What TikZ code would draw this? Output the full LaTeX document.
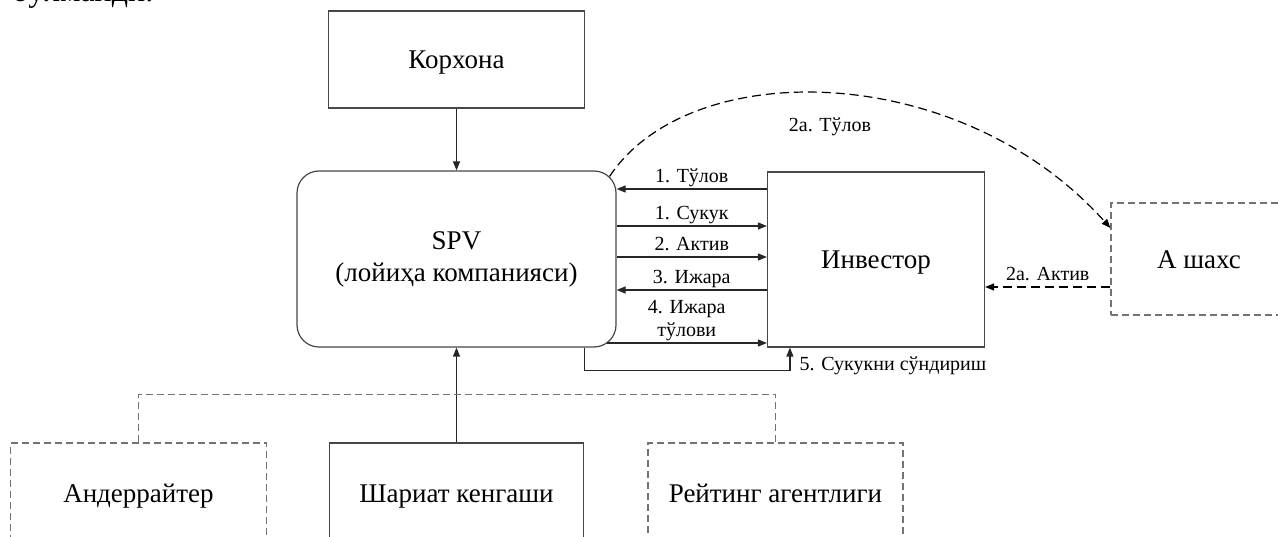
\documentclass[tikz,border=0pt]{standalone}
\usepackage{fontspec}
\setmainfont{Liberation Serif}
\usetikzlibrary{arrows.meta}

\begin{document}
\begin{tikzpicture}[x=1pt, y=-1pt,
    box/.style={draw=black!72, line width=1.2pt, inner sep=0pt, align=center, font=\fontsize{27}{32}\selectfont},
    sbox/.style={box, text height=19pt, text depth=0pt},
    dbox/.style={sbox, draw=black!55, dash pattern=on 7pt off 4pt},
    dline/.style={draw=black!55, line width=1.2pt, dash pattern=on 7pt off 4pt},
    arr/.style={draw=black!85, line width=1.2pt, -{Triangle[length=9pt,width=7pt]}},
    darr/.style={arr, draw=black, dash pattern=on 9pt off 5pt},
    lbl/.style={font=\fontsize{20}{23}\selectfont, inner sep=1.5pt, text depth=4.5pt}]
    % рамка
    \useasboundingbox (0,0) rectangle (1278,537);

    % матн юқорида
    \node[anchor=base west, font=\fontsize{32}{36}\selectfont, inner sep=0pt] (matn) at (12,2) {бўлмайди.};

    % тугунлар
    \node[sbox, minimum width=256pt, minimum height=97pt] (korxona) at (456.5,59.5) {Корхона};
    \node[box, rounded corners=22pt, minimum width=319pt, minimum height=176pt] (spv) at (456.5,259) {SPV\\(лойиҳа компанияси)};
    \node[sbox, minimum width=217pt, minimum height=175pt] (inv) at (876,259.5) {Инвестор};
    \node[dbox, minimum width=176pt, minimum height=112pt] (ashax) at (1199,259) {А шахс};
    \node[dbox, minimum width=256pt, minimum height=100pt] (und) at (138.5,493) {Андеррайтер};
    \node[sbox, minimum width=254pt, minimum height=100pt] (shar) at (456.5,493) {Шариат кенгаши};
    \node[dbox, minimum width=255pt, minimum height=100pt] (reyt) at (775.5,493) {Рейтинг агентлиги};

    % стрелкалар сатҳи
    \coordinate (t1) at (0,189);
    \coordinate (t2) at (0,226);
    \coordinate (t3) at (0,257);
    \coordinate (t4) at (0,290);
    \coordinate (t5) at (0,343);
    \coordinate (t6) at (0,287);

    % боғланишлар
    \draw[arr] (korxona) -- (spv);
    \draw[arr] (shar) -- (spv);
    \draw[dline] (und.north) -- ++(0,-48) -| (reyt.north);

    \draw[arr] (inv.west |- t1) -- (spv.east |- t1) node[lbl, midway, above] {1. Тўлов};
    \draw[arr] (spv.east |- t2) -- (inv.west |- t2) node[lbl, midway, above] {1. Сукук};
    \draw[arr] (spv.east |- t3) -- (inv.west |- t3) node[lbl, midway, above] {2. Актив};
    \draw[arr] (inv.west |- t4) -- (spv.east |- t4) node[lbl, midway, above] {3. Ижара};
    \draw[arr] ([xshift=-10pt]spv.east |- t5) -- (inv.west |- t5) node[lbl, midway, above, align=center] {4. Ижара\\тўлови};
    \draw[arr] ([xshift=-32pt]spv.south east) -- ++(0,23) -| ([xshift=23pt]inv.south west);
    \node[lbl, anchor=west] (sund) at (798,366) {5. Сукукни сўндириш};

    \draw[darr] (ashax.west |- t6) -- (inv.east |- t6) node[lbl, midway, above] {2a. Актив};
    \draw[darr] ([xshift=-7pt,yshift=-6pt]spv.north east) .. controls (690,55) and (960,60) .. ([yshift=31pt]ashax.west);
    \node[lbl] (tulov2a) at (830,127) {2a. Тўлов};
\end{tikzpicture}
\end{document}
